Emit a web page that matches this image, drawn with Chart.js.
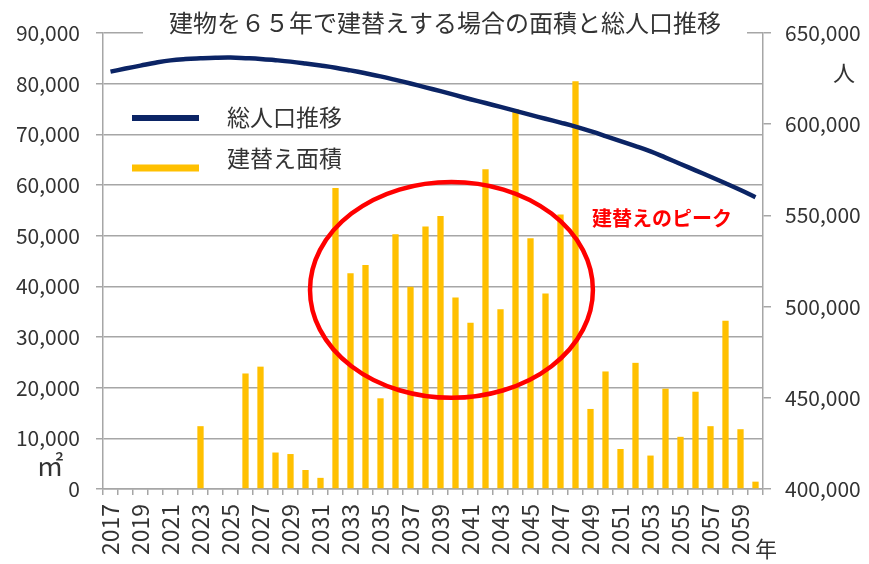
<!DOCTYPE html>
<html>
<head>
<meta charset="utf-8">
<script src="https://cdn.jsdelivr.net/npm/chart.js@4.4.0/dist/chart.umd.min.js"></script>
<style>
  html, body { margin: 0; padding: 0; background: #fff; }
  #wrap { width: 869px; height: 564px; }
</style>
</head>
<body>
<div id="wrap"><canvas id="chart" width="869" height="564"></canvas></div>
<script>
// years 2017..2060
var years = ['2017','2018','2019','2020','2021','2022','2023','2024','2025','2026',
  '2027','2028','2029','2030','2031','2032','2033','2034','2035','2036',
  '2037','2038','2039','2040','2041','2042','2043','2044','2045','2046',
  '2047','2048','2049','2050','2051','2052','2053','2054','2055','2056',
  '2057','2058','2059','2060'];

// 建替え面積 (㎡)
var rebuildArea = [0, 0, 0, 0, 0, 0, 12400, 0, 0, 22800,
  24150, 7200, 6900, 3750, 2200, 59400, 42600, 44200, 17900, 50300,
  39900, 51800, 53900, 37800, 32800, 63100, 35500, 75000, 49500, 38600,
  54200, 80500, 15800, 23200, 7900, 24900, 6600, 19800, 10300, 19200,
  12400, 33200, 11800, 1450];

// 総人口推移 (人)
var population = [628800, 630500, 632100, 633700, 635000, 635700, 636100, 636400, 636500, 636200,
  635800, 635100, 634300, 633300, 632200, 631000, 629500, 627900, 626200, 624300,
  622300, 620200, 618100, 615900, 613700, 611600, 609500, 607300, 605100, 603000,
  600900, 598700, 596200, 593500, 590700, 588000, 585100, 581700, 578200, 574700,
  571200, 567600, 563900, 560000];

var seriesNames = ['総人口推移', '建替え面積'];
var chartTitle = '建物を６５年で建替えする場合の面積と総人口推移';
var peakLabel = '建替えのピーク';

var FONT = '"Noto Sans CJK JP", "Noto Sans", sans-serif';
var TEXT = '#333333';
var GRID = '#a6a6a6';

// red ellipse, in data units (category index / ㎡)
var peakMark = { cx: 22.73, cy: 39300, rx: 9.43, ry: 21300, labelX: 36.77, labelY: 53500 };

var decor = {
  id: 'decor',
  afterDatasetsDraw: function (chart) {
    var ctx = chart.ctx, x = chart.scales.x, y = chart.scales.y;
    var x0 = x.getPixelForValue(0);
    var step = x.getPixelForValue(1) - x0;
    var cx = x0 + peakMark.cx * step;
    var cy = y.getPixelForValue(peakMark.cy);
    var rx = peakMark.rx * step;
    var ry = y.getPixelForValue(0) - y.getPixelForValue(peakMark.ry);
    ctx.save();
    ctx.strokeStyle = '#ff0000';
    ctx.lineWidth = 4.5;
    ctx.beginPath();
    ctx.ellipse(cx, cy, rx, ry, 0, 0, Math.PI * 2);
    ctx.stroke();
    ctx.fillStyle = '#ff0000';
    ctx.font = 'bold 20px ' + FONT;
    ctx.textAlign = 'center';
    ctx.textBaseline = 'middle';
    ctx.fillText(peakLabel, x0 + peakMark.labelX * step, y.getPixelForValue(peakMark.labelY));
    ctx.restore();
  },
  afterDraw: function (chart) {
    var ctx = chart.ctx;
    ctx.save();
    // title (white box hides top gridline)
    ctx.fillStyle = '#fff';
    ctx.fillRect(143, 8, 604, 34);
    ctx.fillStyle = TEXT;
    ctx.font = '24px ' + FONT;
    ctx.textAlign = 'center';
    ctx.textBaseline = 'middle';
    ctx.fillText(chartTitle, 445, 23);

    // legend
    var ds = chart.data.datasets;
    var rows = [[ds[0], 118, 6], [ds[1], 168, 7]];
    rows.forEach(function (r) {
      ctx.strokeStyle = r[0].borderColor || r[0].backgroundColor;
      ctx.lineWidth = r[2];
      ctx.beginPath();
      ctx.moveTo(132, r[1]);
      ctx.lineTo(199, r[1]);
      ctx.stroke();
    });
    ctx.fillStyle = TEXT;
    ctx.font = '23px ' + FONT;
    ctx.textAlign = 'left';
    ctx.fillText(ds[0].label, 227, 117);
    ctx.fillText(ds[1].label, 227, 158);

    // unit labels
    ctx.textAlign = 'center';
    ctx.font = '22px ' + FONT;
    ctx.fillText('人', 844, 73);
    ctx.fillText('年', 766, 549);
    ctx.font = '27px ' + FONT;
    ctx.fillText('㎡', 50, 466);
    ctx.restore();
  }
};

new Chart(document.getElementById('chart'), {
  type: 'bar',
  data: {
    labels: years,
    datasets: [{
      type: 'line',
      label: seriesNames[0],
      data: population,
      yAxisID: 'y2',
      borderColor: '#0b2465',
      borderWidth: 4.5,
      pointRadius: 0,
      tension: 0.4,
      order: 0
    }, {
      label: seriesNames[1],
      data: rebuildArea,
      yAxisID: 'y',
      backgroundColor: '#ffc000',
      categoryPercentage: 1,
      barPercentage: 0.42,
      order: 1
    }]
  },
  options: {
    responsive: false,
    animation: false,
    events: [],
    layout: { padding: { top: 33, left: 0, right: 0, bottom: 0 } },
    plugins: { legend: { display: false }, title: { display: false }, tooltip: { enabled: false } },
    scales: {
      x: {
        grid: { display: true, drawOnChartArea: false, color: GRID, lineWidth: 1.5, tickLength: 6, offset: true },
        border: { color: GRID, width: 1.5 },
        ticks: {
          autoSkip: false, minRotation: 90, maxRotation: 90, padding: 9,
          color: TEXT, font: { family: FONT, size: 23 },
          callback: function (v, i) { return i % 2 === 0 ? this.getLabelForValue(v) : ''; }
        },
        afterFit: function (s) { s.height = 75; }
      },
      y: {
        position: 'left', min: 0, max: 90000,
        grid: { color: GRID, lineWidth: 1.5, tickLength: 7 },
        border: { color: GRID, width: 1.5 },
        ticks: {
          stepSize: 10000, padding: 16, color: TEXT, font: { family: FONT, size: 21 },
          callback: function (v) { return v.toLocaleString('en-US'); }
        },
        afterFit: function (s) { s.width = 103; }
      },
      y2: {
        position: 'right', min: 400000, max: 650000,
        grid: { drawOnChartArea: false, color: GRID, lineWidth: 1.5, tickLength: 8 },
        border: { color: GRID, width: 1.5 },
        ticks: {
          stepSize: 50000, padding: 14, color: TEXT, font: { family: FONT, size: 21 },
          callback: function (v) { return v.toLocaleString('en-US'); }
        },
        afterFit: function (s) { s.width = 106; }
      }
    }
  },
  plugins: [decor]
});
</script>
</body>
</html>
